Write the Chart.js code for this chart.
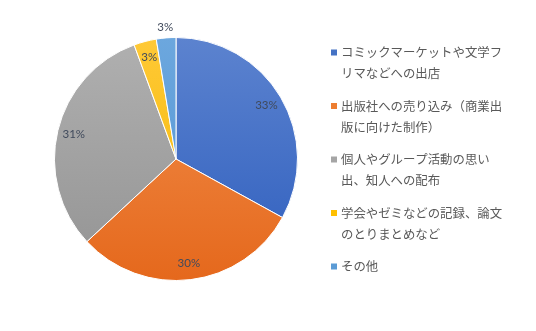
<!DOCTYPE html>
<html>
<head>
<meta charset="utf-8">
<script src="https://cdn.jsdelivr.net/npm/chart.js@4"></script>
<style>
html,body{margin:0;padding:0;background:#fff;}
#wrap{width:536px;height:331px;position:relative;}
</style>
</head>
<body>
<div id="wrap"><canvas id="c" width="536" height="331"></canvas></div>
<script>
// Data
const categories = [
  ["コミックマーケットや文学フ", "リマなどへの出店"],
  ["出版社への売り込み（商業出", "版に向けた制作）"],
  ["個人やグループ活動の思い", "出、知人への配布"],
  ["学会やゼミなどの記録、論文", "のとりまとめなど"],
  ["その他"]
];
const values = [33.0, 30.1, 31.3, 3.0, 2.6];
const legendColors = ["#4472C4", "#ED7D31", "#A5A5A5", "#FFC000", "#5B9BD5"];
const gradTop = ["#5C83CF", "#F2904E", "#B0B0B0", "#FFC936", "#6CA7DE"];
const gradBottom = ["#2E5EBE", "#E5681C", "#939393", "#F2B600", "#5193D3"];

const total = values.reduce((a, b) => a + b, 0);

function sliceFill(ctx) {
  const chart = ctx.chart;
  const area = chart.chartArea;
  if (!area) return legendColors[ctx.dataIndex];
  const g = chart.ctx.createLinearGradient(0, area.top, 0, area.bottom);
  g.addColorStop(0, gradTop[ctx.dataIndex]);
  g.addColorStop(1, gradBottom[ctx.dataIndex]);
  return g;
}

const labelPlugin = {
  id: 'pieLabels',
  afterDatasetsDraw(chart) {
    const meta = chart.getDatasetMeta(0);
    const c = chart.ctx;
    c.save();
    c.font = '11.5px Lato, "Liberation Sans", sans-serif';
    c.fillStyle = '#404A5C';
    c.textAlign = 'center';
    c.textBaseline = 'middle';
    meta.data.forEach((arc, i) => {
      const p = arc.getProps(['x', 'y', 'startAngle', 'endAngle', 'outerRadius'], true);
      const mid = (p.startAngle + p.endAngle) / 2;
      const span = p.endAngle - p.startAngle;
      const r = span < 0.17 ? p.outerRadius + 11 : p.outerRadius * 0.865;
      const pct = Math.round(values[i] / total * 100) + '%';
      c.fillText(pct, p.x + Math.cos(mid) * r, p.y + Math.sin(mid) * r);
    });
    c.restore();
  }
};

const legendPlugin = {
  id: 'sideLegend',
  afterDraw(chart) {
    const c = chart.ctx;
    c.save();
    const startY = 52.5, itemGap = 53.5, lineGap = 21;
    categories.forEach((lines, i) => {
      const y0 = startY + i * itemGap;
      c.fillStyle = legendColors[i];
      c.fillRect(331, y0 - 3, 6, 6);
      c.fillStyle = '#595959';
      c.font = '12.4px "Noto Sans CJK JP", sans-serif';
      c.textAlign = 'left';
      c.textBaseline = 'middle';
      lines.forEach((t, j) => c.fillText(t, 341, y0 + j * lineGap));
    });
    c.restore();
  }
};

new Chart(document.getElementById('c'), {
  type: 'pie',
  data: {
    labels: categories.map(l => l.join('')),
    datasets: [{
      data: values,
      backgroundColor: sliceFill,
      borderColor: '#ffffff',
      borderWidth: 1
    }]
  },
  options: {
    responsive: false,
    animation: false,
    layout: { padding: { left: 54, top: 37, right: 238, bottom: 50 } },
    plugins: {
      legend: { display: false },
      tooltip: { enabled: false }
    }
  },
  plugins: [labelPlugin, legendPlugin]
});
</script>
</body>
</html>
